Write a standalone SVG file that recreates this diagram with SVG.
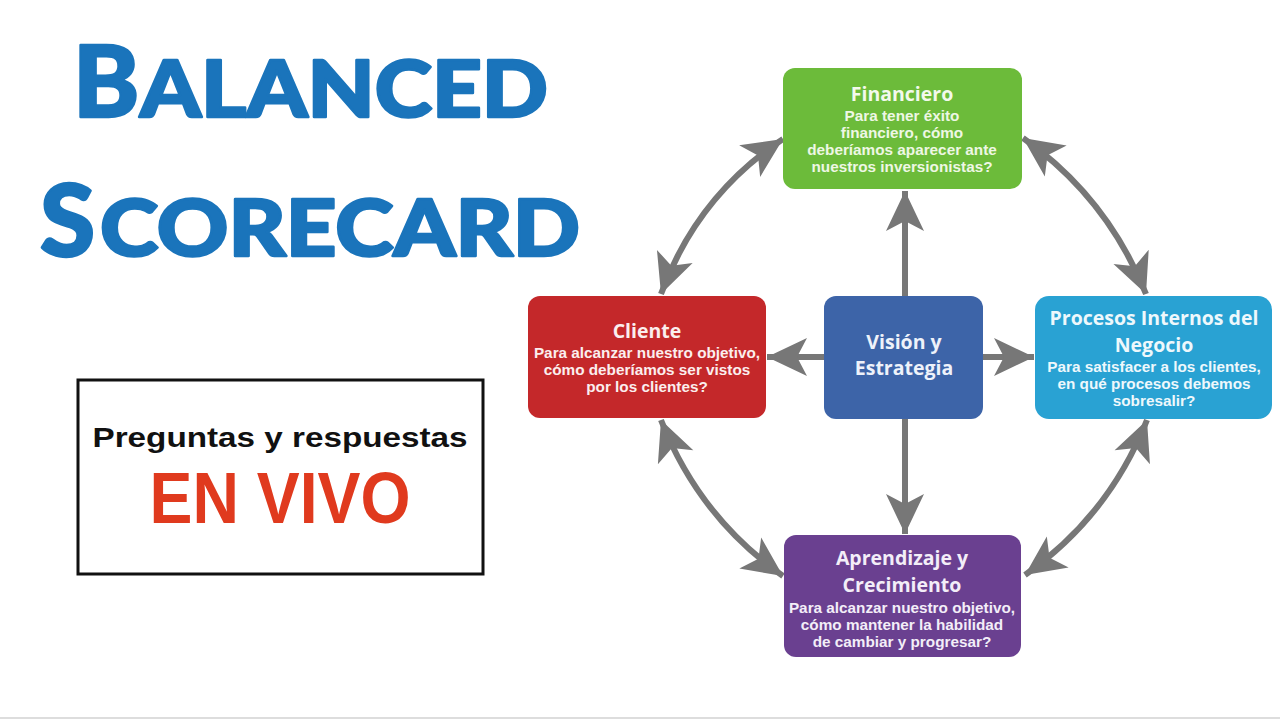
<svg xmlns="http://www.w3.org/2000/svg" width="1280" height="720" viewBox="0 0 1280 720">
<style>
.title{font-family:Lato,"Open Sans","Liberation Sans",sans-serif;font-weight:900;fill:#1a74bb;stroke:#1a74bb;stroke-width:2.5;stroke-linejoin:round}
.hd{font-family:"Open Sans","DejaVu Sans",sans-serif;font-weight:700;font-size:19.5px;text-anchor:middle}
.bd{font-family:"Liberation Sans",Arial,sans-serif;font-weight:700;font-size:15.3px;text-anchor:middle}
.conn{fill:none;stroke:#777;stroke-width:6}
</style>
<defs>
<marker id="ah" markerUnits="userSpaceOnUse" markerWidth="46" markerHeight="46" viewBox="-42 -21 46 42" refX="0" refY="0" orient="auto-start-reverse">
<path d="M0,0 L-40,-19 L-30,0 L-40,19 Z" fill="#777"/>
</marker>
</defs>
<rect width="1280" height="720" fill="#fff"/>
<line x1="0" y1="718" x2="1280" y2="718" stroke="#ddd" stroke-width="2"/>

<g id="title">
<text class="title" x="73" y="117" font-size="100">B</text>
<text class="title" x="140" y="117" font-size="78" textLength="408" lengthAdjust="spacingAndGlyphs">ALANCED</text>
<text class="title" x="40" y="256" font-size="100">S</text>
<text class="title" x="100" y="256" font-size="78" textLength="480" lengthAdjust="spacingAndGlyphs">CORECARD</text>
</g>

<g id="live">
<rect x="78" y="380" width="405" height="194" fill="#fff" stroke="#111" stroke-width="3"/>
<text x="280" y="447" font-family="'Liberation Sans',Arial,sans-serif" font-weight="700" font-size="28" text-anchor="middle" fill="#111" textLength="375" lengthAdjust="spacingAndGlyphs">Preguntas y respuestas</text>
<text x="280" y="523" font-family="'Liberation Sans',Arial,sans-serif" font-weight="700" font-size="72" text-anchor="middle" fill="#e03a1e" textLength="261" lengthAdjust="spacingAndGlyphs">EN VIVO</text>
</g>

<g id="connectors">
<line class="conn" x1="905" y1="296" x2="905" y2="191" marker-end="url(#ah)"/>
<line class="conn" x1="905" y1="419" x2="905" y2="534" marker-end="url(#ah)"/>
<line class="conn" x1="824" y1="357" x2="767" y2="357" marker-end="url(#ah)"/>
<line class="conn" x1="983" y1="357" x2="1034" y2="357" marker-end="url(#ah)"/>
<path class="conn" d="M661,294 Q697,196 783,139" marker-start="url(#ah)" marker-end="url(#ah)"/>
<path class="conn" d="M1023,138 Q1107,197 1146,294" marker-start="url(#ah)" marker-end="url(#ah)"/>
<path class="conn" d="M661,420 Q699,517 783,576" marker-start="url(#ah)" marker-end="url(#ah)"/>
<path class="conn" d="M1147,420 Q1109,516 1025,575" marker-start="url(#ah)" marker-end="url(#ah)"/>
</g>

<g id="financiero">
<rect x="783" y="68" width="239" height="121" rx="12" fill="#6cbb3a"/>
<text class="hd" x="902" y="101" fill="#f3f9ec">Financiero</text>
<text class="bd" x="902" y="121" fill="#eef7e4">Para tener éxito</text>
<text class="bd" x="902" y="138" fill="#eef7e4">financiero, cómo</text>
<text class="bd" x="902" y="155" fill="#eef7e4">deberíamos aparecer ante</text>
<text class="bd" x="902" y="172" fill="#eef7e4">nuestros inversionistas?</text>
</g>

<g id="cliente">
<rect x="528" y="296" width="238" height="122" rx="12" fill="#c4282a"/>
<text class="hd" x="647" y="338" fill="#fbeeee">Cliente</text>
<text class="bd" x="647" y="358" fill="#fbeeee">Para alcanzar nuestro objetivo,</text>
<text class="bd" x="647" y="375" fill="#fbeeee">cómo deberíamos ser vistos</text>
<text class="bd" x="647" y="392" fill="#fbeeee">por los clientes?</text>
</g>

<g id="vision">
<rect x="824" y="296" width="159" height="123" rx="12" fill="#3d64a8"/>
<text class="hd" x="904" y="349" fill="#eef2fa">Visión y</text>
<text class="hd" x="904" y="375" fill="#eef2fa">Estrategia</text>
</g>

<g id="procesos">
<rect x="1035" y="296" width="237" height="123" rx="14" fill="#29a2d3"/>
<text class="hd" x="1154" y="325" fill="#eef8fc">Procesos Internos del</text>
<text class="hd" x="1154" y="352" fill="#eef8fc">Negocio</text>
<text class="bd" x="1154" y="372" fill="#eef8fc">Para satisfacer a los clientes,</text>
<text class="bd" x="1154" y="389" fill="#eef8fc">en qué procesos debemos</text>
<text class="bd" x="1154" y="406" fill="#eef8fc">sobresalir?</text>
</g>

<g id="aprendizaje">
<rect x="784" y="535" width="237" height="122" rx="12" fill="#6a4090"/>
<text class="hd" x="902" y="565" fill="#f3eef8">Aprendizaje y</text>
<text class="hd" x="902" y="592" fill="#f3eef8">Crecimiento</text>
<text class="bd" x="902" y="613" fill="#f3eef8">Para alcanzar nuestro objetivo,</text>
<text class="bd" x="902" y="630" fill="#f3eef8">cómo mantener la habilidad</text>
<text class="bd" x="902" y="647" fill="#f3eef8">de cambiar y progresar?</text>
</g>
</svg>
